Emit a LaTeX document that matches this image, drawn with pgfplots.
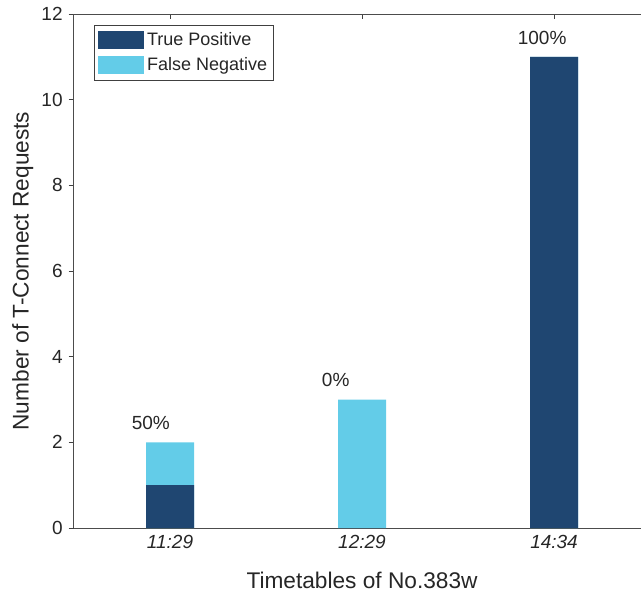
\documentclass[border=0pt]{standalone}
\usepackage{fontspec}
\setmainfont{Liberation Sans}
\usepackage{pgfplots}
\pgfplotsset{compat=1.18}
\definecolor{tp}{RGB}{31,70,113}
\definecolor{fn}{RGB}{99,204,232}
\definecolor{axgray}{RGB}{38,38,38}
\pgfplotsset{mylegend/.style={legend image code/.code={\fill[##1] (0pt,-6.75pt) rectangle (34.5pt,6.75pt);}}}
\begin{document}
\begin{tikzpicture}
\begin{axis}[
  name=ax,
  scale only axis, width=425.25pt, height=385.5pt,
  xmin=0.5, xmax=3.453, ymin=0, ymax=12,
  clip=false,
  axis x line=box, axis y line=left,
  axis line style={-, draw=black!70, line width=0.75pt},
  every tick/.style={draw=black!75, line width=0.6pt},
  major tick length=4pt,
  xtick align=inside, ytick align=outside,
  xtick={1,2,3}, xticklabels={11:29,12:29,14:34},
  x tick label style={font=\fontsize{14.25}{16}\selectfont\itshape, text=axgray, yshift=-2pt},
  ytick={0,2,...,12},
  y tick label style={font=\fontsize{14.25}{16}\selectfont, text=axgray, xshift=-1pt},
  /pgf/number format/assume math mode=true,
  xlabel={Timetables of No.383w},
  xlabel style={at={(axis description cs:0.508,0)}, anchor=base, yshift=-45pt, inner sep=0pt,
                font=\fontsize{17}{20}\selectfont, text=axgray},
  ylabel={Number of T-Connect Requests},
  ylabel style={at={(axis description cs:-0.0903,0.5)}, anchor=center, inner sep=0pt,
                font=\fontsize{17}{20}\selectfont, text=axgray},
  reverse legend,
  legend cell align=left,
  legend style={at={(rel axis cs:0.0353,0.9786)}, anchor=north west, draw=black!75, line width=0.5pt,
                font=\fontsize{13.5}{16}\selectfont, text=axgray, inner xsep=3pt, inner ysep=3.5pt,
                row sep=3.5pt,
                /tikz/every even column/.append style={column sep=2pt}},
]
% total height of each stack (light part on top)
\addplot[ybar, bar width=0.25, bar shift=0pt, fill=fn, draw=none, mylegend]
  coordinates {(1,2) (2,3) (3,11)};
\addlegendentry{False Negative}
% true positive part
\addplot[ybar, bar width=0.25, bar shift=0pt, fill=tp, draw=none, mylegend]
  coordinates {(1,1) (2,0) (3,11)};
\addlegendentry{True Positive}
% percentage labels
\addplot[only marks, mark=none, forget plot, point meta=explicit symbolic, nodes near coords,
  nodes near coords style={anchor=west, inner sep=0pt, font=\fontsize{14.25}{16}\selectfont, text=axgray}]
  coordinates {(0.80,2.45)[50\%] (1.79,3.45)[0\%] (2.81,11.45)[100\%]};
\end{axis}
\pgfresetboundingbox
\path ([xshift=-55.5pt,yshift=-51.75pt]ax.south west) rectangle ([yshift=10.5pt]ax.north east);
\end{tikzpicture}
\end{document}
